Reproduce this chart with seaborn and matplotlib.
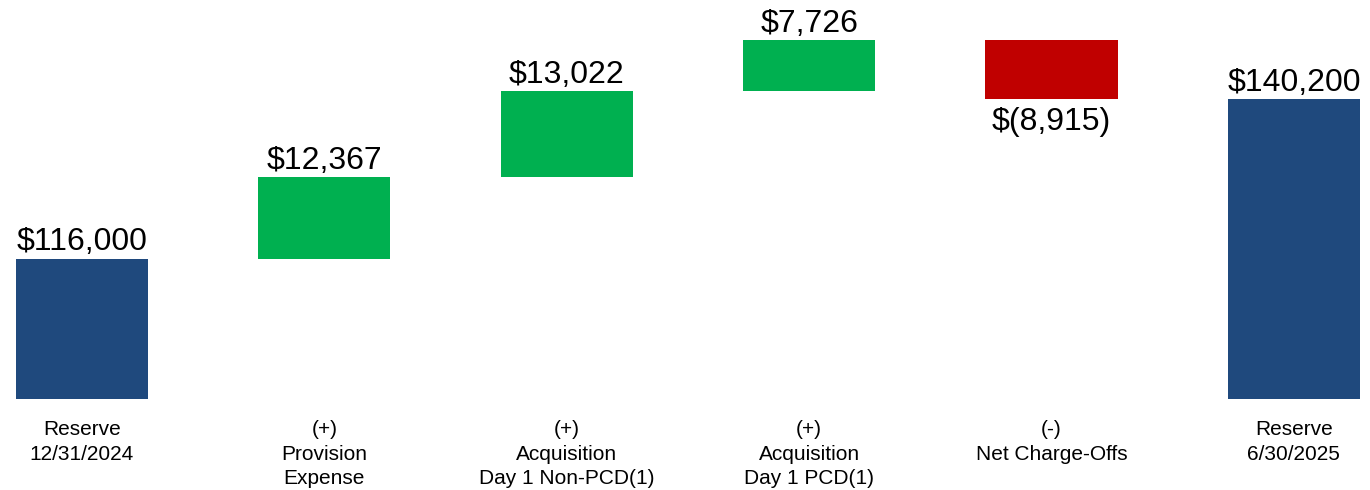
import matplotlib
matplotlib.use("Agg")
import matplotlib.pyplot as plt
import numpy as np
import pandas as pd
import seaborn as sns

# Allowance reserve roll-forward (in thousands of dollars)
categories = [
    "Reserve\n12/31/2024",
    "(+)\nProvision\nExpense",
    "(+)\nAcquisition\nDay 1 Non-PCD(1)",
    "(+)\nAcquisition\nDay 1 PCD(1)",
    "(-)\nNet Charge-Offs",
    "Reserve\n6/30/2025",
]
changes = [116000, 12367, 13022, 7726, -8915, 140200]
is_total = [True, False, False, False, False, True]
value_labels = ["$116,000", "$12,367", "$13,022", "$7,726", "$(8,915)", "$140,200"]

NAVY = "#1F497D"
GREEN = "#00B050"
RED = "#C00000"

# Floating-bar geometry for the waterfall
bottoms, heights, colors = [], [], []
running = 0
for val, total in zip(changes, is_total):
    if total:
        bottoms.append(0)
        heights.append(val)
        colors.append(NAVY)
        running = val
    else:
        bottoms.append(running)
        heights.append(val)
        colors.append(GREEN if val >= 0 else RED)
        running += val

df = pd.DataFrame({"step": categories, "height": heights})

sns.set_theme(style="white")
plt.rcParams["font.family"] = ["Liberation Sans", "DejaVu Sans"]

fig = plt.figure(figsize=(13.7, 4.9), dpi=100)
ax = fig.add_axes([0, 0.1857, 1, 0.8143])

sns.barplot(data=df, x="step", y="height", bottom=np.array(bottoms, dtype=float),
            width=0.545, ax=ax, errorbar=None, saturation=1, color=NAVY)
for patch, c in zip(ax.patches, colors):
    patch.set_facecolor(c)
    patch.set_edgecolor("none")

for i, (b, h, lab) in enumerate(zip(bottoms, heights, value_labels)):
    if h >= 0:
        ax.annotate(lab, (i, b + h), xytext=(0, 1), textcoords="offset points",
                    ha="center", va="bottom", fontsize=23, color="black")
    else:
        ax.annotate(lab, (i, b + h), xytext=(0, -5.5), textcoords="offset points",
                    ha="center", va="top", fontsize=23, color="black")

ax.set_xlim(-0.338, 5.314)
ax.set_ylim(94700, 155220)
ax.set_xlabel("")
ax.set_ylabel("")
ax.set_yticks([])
ax.tick_params(axis="x", length=0, pad=15, labelsize=15, colors="black")
for lbl in ax.get_xticklabels():
    lbl.set_horizontalalignment("center")
    lbl.set_linespacing(1.38)
for s in ax.spines.values():
    s.set_visible(False)

fig.savefig("out.png", dpi=100, facecolor="white")
